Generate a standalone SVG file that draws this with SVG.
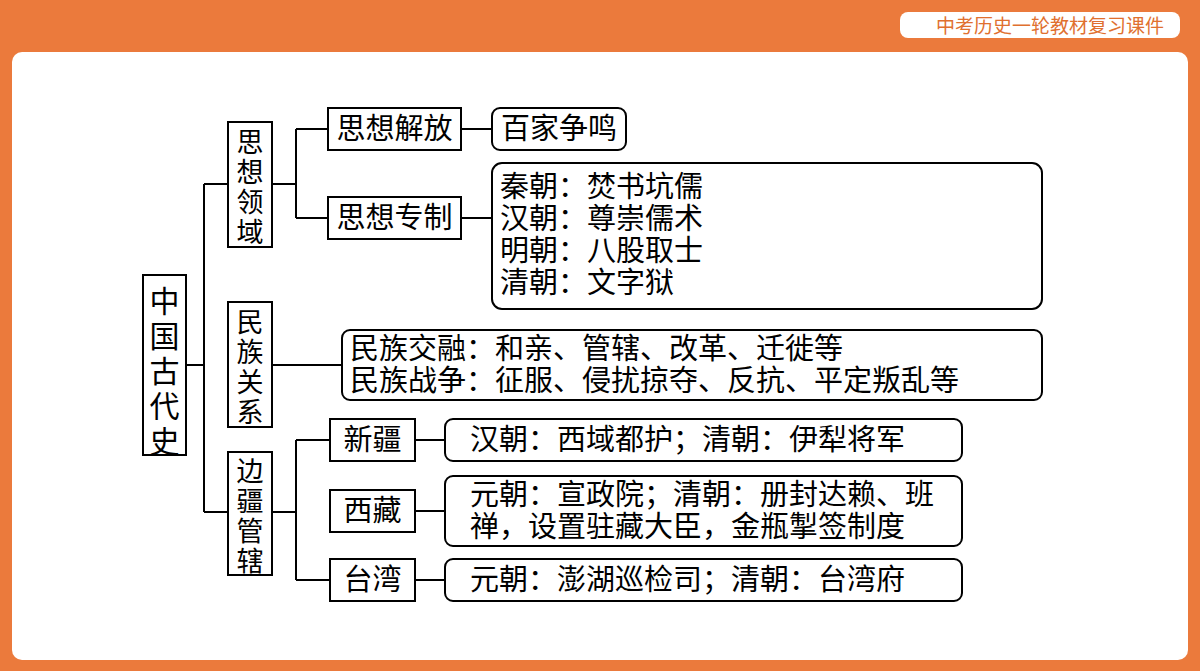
<svg xmlns="http://www.w3.org/2000/svg" width="1200" height="671" viewBox="0 0 1200 671">
<style>
.b{fill:#fff;stroke:#000;stroke-width:2}
.r{fill:#fff;stroke:#000;stroke-width:2}
text{font-family:"Noto Sans CJK SC",sans-serif;font-size:29px;fill:#000}
.v{font-size:27px}
.c line{stroke:#000;stroke-width:2}
</style>
<rect width="1200" height="671" fill="#EB7A3C"/>
<rect x="12" y="52" width="1176" height="608" rx="10" fill="#fff"/>
<rect x="900" y="12" width="280" height="26" rx="8" fill="#fff"/>
<text x="1050" y="33" text-anchor="middle" style="font-size:19px;fill:#E0702F">中考历史一轮教材复习课件</text>
<g class="c">
<line x1="186" y1="365" x2="204" y2="365"/><line x1="204" y1="184" x2="204" y2="512"/>
<line x1="204" y1="184" x2="228" y2="184"/><line x1="204" y1="512" x2="228" y2="512"/>
<line x1="272" y1="184" x2="296" y2="184"/><line x1="296" y1="129" x2="296" y2="218"/>
<line x1="296" y1="129" x2="328" y2="129"/><line x1="296" y1="218" x2="328" y2="218"/>
<line x1="461" y1="129" x2="492" y2="129"/><line x1="461" y1="218" x2="492" y2="218"/>
<line x1="272" y1="365" x2="342" y2="365"/>
<line x1="272" y1="512" x2="296" y2="512"/><line x1="296" y1="440" x2="296" y2="580"/>
<line x1="296" y1="440" x2="330" y2="440"/><line x1="296" y1="580" x2="330" y2="580"/>
<line x1="415" y1="440" x2="445" y2="440"/><line x1="415" y1="511" x2="445" y2="511"/><line x1="415" y1="580" x2="445" y2="580"/>
</g>
<g id="root"><rect class="b" x="143" y="275" width="43" height="180"/>
<text x="164.5" y="312" text-anchor="middle" style="font-size:30px">中</text><text x="164.5" y="347" text-anchor="middle" style="font-size:30px">国</text><text x="164.5" y="382" text-anchor="middle" style="font-size:30px">古</text><text x="164.5" y="417" text-anchor="middle" style="font-size:30px">代</text><text x="164.5" y="452" text-anchor="middle" style="font-size:30px">史</text></g>
<g id="sx"><rect class="b" x="228" y="122" width="44" height="125"/>
<text class="v" x="250" y="152" text-anchor="middle">思</text><text class="v" x="250" y="182" text-anchor="middle">想</text><text class="v" x="250" y="212" text-anchor="middle">领</text><text class="v" x="250" y="242" text-anchor="middle">域</text></g>
<g id="mz"><rect class="b" x="228" y="302" width="44" height="125"/>
<text class="v" x="250" y="332" text-anchor="middle">民</text><text class="v" x="250" y="362" text-anchor="middle">族</text><text class="v" x="250" y="392" text-anchor="middle">关</text><text class="v" x="250" y="422" text-anchor="middle">系</text></g>
<g id="bj"><rect class="b" x="228" y="452" width="44" height="123"/>
<text class="v" x="250" y="481" text-anchor="middle">边</text><text class="v" x="250" y="511" text-anchor="middle">疆</text><text class="v" x="250" y="541" text-anchor="middle">管</text><text class="v" x="250" y="571" text-anchor="middle">辖</text></g>
<g id="jf"><rect class="b" x="328" y="108" width="133" height="42"/><text x="394.5" y="139" text-anchor="middle">思想解放</text></g>
<g id="zz"><rect class="b" x="328" y="197" width="133" height="42"/><text x="394.5" y="228" text-anchor="middle">思想专制</text></g>
<g id="bjzm"><rect class="r" x="492" y="108" width="134" height="42" rx="8"/><text x="559" y="139" text-anchor="middle">百家争鸣</text></g>
<g id="zzd"><rect class="r" x="492" y="163" width="550" height="146" rx="10"/>
<text x="500" y="197">秦朝：焚书坑儒</text><text x="500" y="229">汉朝：尊崇儒术</text><text x="500" y="261">明朝：八股取士</text><text x="500" y="293">清朝：文字狱</text></g>
<g id="mzd"><rect class="r" x="342" y="330" width="700" height="70" rx="8"/>
<text x="350" y="359">民族交融：和亲、管辖、改革、迁徙等</text><text x="350" y="391">民族战争：征服、侵扰掠夺、反抗、平定叛乱等</text></g>
<g id="xj"><rect class="b" x="330" y="419" width="85" height="42"/><text x="372.5" y="450" text-anchor="middle">新疆</text></g>
<g id="xz"><rect class="b" x="330" y="490" width="85" height="42"/><text x="372.5" y="521" text-anchor="middle">西藏</text></g>
<g id="tw"><rect class="b" x="330" y="559" width="85" height="42"/><text x="372.5" y="590" text-anchor="middle">台湾</text></g>
<g id="xjd"><rect class="r" x="445" y="419" width="517" height="42" rx="8"/><text x="470" y="450">汉朝：西域都护；清朝：伊犁将军</text></g>
<g id="xzd"><rect class="r" x="445" y="476" width="517" height="70" rx="8"/><text x="470" y="505">元朝：宣政院；清朝：册封达赖、班</text><text x="470" y="537">禅，设置驻藏大臣，金瓶掣签制度</text></g>
<g id="twd"><rect class="r" x="445" y="559" width="517" height="42" rx="8"/><text x="470" y="590">元朝：澎湖巡检司；清朝：台湾府</text></g>
</svg>
